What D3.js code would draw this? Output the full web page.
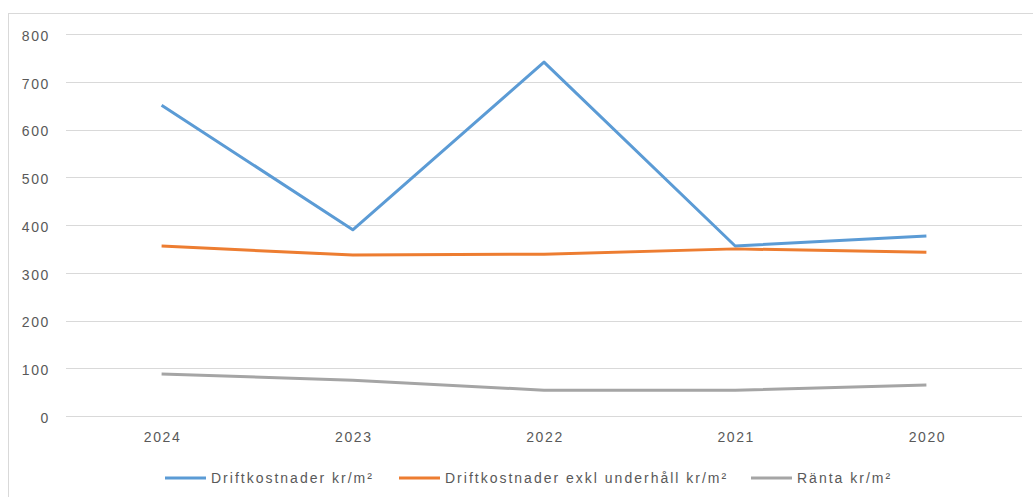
<!DOCTYPE html>
<html>
<head>
<meta charset="utf-8">
<script src="https://cdn.jsdelivr.net/npm/d3@7"></script>
<style>
  html, body { margin: 0; padding: 0; background: #fff; }
  svg { display: block; font-family: "Liberation Sans", Arial, sans-serif; }
</style>
</head>
<body>
<svg id="chart" width="1033" height="497"></svg>
<script>
const years = ["2024", "2023", "2022", "2021", "2020"];
const drift = [651, 390, 741, 356, 377];
const driftExkl = [356, 337, 339, 350, 343];
const ranta = [88, 75, 54, 54, 65];
const yTicks = [0, 100, 200, 300, 400, 500, 600, 700, 800];
const seriesNames = ["Driftkostnader kr/m²", "Driftkostnader exkl underhåll kr/m²", "Ränta kr/m²"];
const seriesColors = ["#5B9BD5", "#ED7D31", "#A5A5A5"];

const series = [drift, driftExkl, ranta].map((vals, i) => ({
  name: seriesNames[i], color: seriesColors[i], values: vals
}));

const svg = d3.select("#chart");
const textColor = "#595959";
const fontSize = "14px";
const spacing = "1.6px";

// chart area frame
svg.append("rect")
  .attr("x", 8.5).attr("y", 13.5)
  .attr("width", 1040).attr("height", 500)
  .attr("fill", "none").attr("stroke", "#d9d9d9").attr("stroke-width", 1);

const plot = { left: 66, right: 1022, top: 34, bottom: 416 };

const x = d3.scaleBand().domain(years).range([plot.left, plot.right]);
const y = d3.scaleLinear().domain([0, 800]).range([plot.bottom, plot.top]);

// horizontal gridlines
svg.append("g")
  .selectAll("line")
  .data(yTicks)
  .join("line")
  .attr("x1", plot.left).attr("x2", plot.right)
  .attr("y1", d => Math.round(y(d)) + 0.5).attr("y2", d => Math.round(y(d)) + 0.5)
  .attr("stroke", "#d9d9d9").attr("stroke-width", 1.2);

// y axis labels
const yAxis = d3.axisLeft(y).tickValues(yTicks).tickSize(0).tickPadding(0);
const gy = svg.append("g").attr("transform", `translate(50,2)`).call(yAxis);
gy.select(".domain").remove();
gy.selectAll("text").attr("fill", textColor)
  .style("font-size", fontSize).style("letter-spacing", spacing);

// x axis labels
const xAxis = d3.axisBottom(x).tickSize(0).tickPadding(0);
const gx = svg.append("g").attr("transform", `translate(1,432)`).call(xAxis);
gx.select(".domain").remove();
gx.selectAll("text").attr("fill", textColor)
  .style("font-size", fontSize).style("letter-spacing", spacing);

// series lines
const line = d3.line()
  .x((d, i) => x(years[i]) + x.bandwidth() / 2)
  .y(d => y(d));

svg.append("g")
  .selectAll("path")
  .data(series)
  .join("path")
  .attr("d", s => line(s.values))
  .attr("fill", "none")
  .attr("stroke", s => s.color)
  .attr("stroke-width", 3)
  .attr("stroke-linejoin", "round");

// legend
const legendX = [165, 399, 751];
const legend = svg.append("g").attr("transform", "translate(0,478)");
const items = legend.selectAll("g")
  .data(series)
  .join("g")
  .attr("transform", (d, i) => `translate(${legendX[i]},0)`);
items.append("line")
  .attr("x1", 0).attr("x2", 41)
  .attr("stroke", d => d.color).attr("stroke-width", 3);
items.append("text")
  .attr("x", 46).attr("y", 0).attr("dy", "0.35em")
  .attr("fill", textColor).style("font-size", fontSize)
  .style("letter-spacing", "2px")
  .text(d => d.name);
</script>
</body>
</html>
